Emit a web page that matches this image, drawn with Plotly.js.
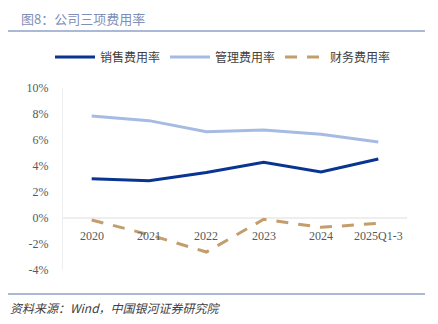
<!DOCTYPE html>
<html><head><meta charset="utf-8">
<script src="https://cdn.plot.ly/plotly-3.0.1.min.js"></script>
<style>body{margin:0;padding:0;background:#fff}#c{width:438px;height:324px}</style>
</head><body><div id="c"></div>
<script>
const categories = ['2020','2021','2022','2023','2024','2025Q1-3'];
const salesRate = [3.02, 2.87, 3.50, 4.28, 3.54, 4.54];
const adminRate = [7.85, 7.49, 6.64, 6.77, 6.44, 5.85];
const financeRate = [-0.15, -1.28, -2.62, -0.10, -0.72, -0.41];
const seriesNames = ['销售费用率','管理费用率','财务费用率'];
const yTicks = [-4,-2,0,2,4,6,8,10];

const cjk = '"Noto Sans CJK SC", "Liberation Serif", serif';
const num = '"Liberation Serif", "Noto Sans CJK SC", serif';

const L = 63, T = 88, PW = 344, PH = 182, W = 438, H = 324;
const px = x => (x - L) / PW;
const py = y => (T + PH - y) / PH;

const traces = [
  {x: categories, y: salesRate, name: seriesNames[0], mode:'lines', line:{color:'#0a3491', width:3}},
  {x: categories, y: adminRate, name: seriesNames[1], mode:'lines', line:{color:'#a6bbe4', width:3}},
  {x: categories, y: financeRate, name: seriesNames[2], mode:'lines', line:{color:'#c49d6c', width:3, dash:'12px,10px'}}
];

const annotations = categories.map((c, i) => ({
  x: i, y: -1.38, xref:'x', yref:'y', text: c, showarrow:false,
  font:{family:num, size:12, color:'#595959'}
}));
annotations.push({xref:'paper', yref:'paper', x:px(19), y:py(18), xanchor:'left', yanchor:'middle',
  text:'图8：公司三项费用率', showarrow:false, font:{family:cjk, size:13, color:'#7f8fb8'}});
annotations.push({xref:'paper', yref:'paper', x:px(8), y:py(307), xanchor:'left', yanchor:'middle',
  text:'<i>资料来源：Wind，中国银河证券研究院</i>', showarrow:false, font:{family:cjk, size:12, color:'#404040'}});

const layout = {
  width:W, height:H,
  margin:{l:L, r:W-L-PW, t:T, b:H-T-PH},
  paper_bgcolor:'#ffffff', plot_bgcolor:'#ffffff',
  showlegend:true,
  legend:{orientation:'h', xref:'container', yref:'container', x:50/W, y:1-57/H, yanchor:'middle', xanchor:'left',
    font:{family:cjk, size:12, color:'#404040'}, itemwidth:40, tracegroupgap:0, bgcolor:'rgba(0,0,0,0)'},
  xaxis:{type:'category', range:[-0.5,5.5], showticklabels:false, showgrid:false, zeroline:false, showline:false, ticks:''},
  yaxis:{range:[-4,10], tickvals:yTicks, ticktext:yTicks.map(v=>v+'%'), showgrid:false,
    zeroline:true, zerolinecolor:'#eeeeee', zerolinewidth:1.5,
    showline:true, linecolor:'#eeeeee', linewidth:1, ticks:'', ticklabelstandoff:11,
    tickfont:{family:num, size:12, color:'#595959'}},
  annotations: annotations,
  shapes:[
    {type:'line', xref:'paper', yref:'paper', x0:px(8), x1:px(425), y0:py(31), y1:py(31), line:{color:'#8fa0c8', width:1.5}},
    {type:'line', xref:'paper', yref:'paper', x0:px(8), x1:px(425), y0:py(294), y1:py(294), line:{color:'#8fa0c8', width:1.5}}
  ]
};
Plotly.newPlot('c', traces, layout, {displayModeBar:false, staticPlot:true});
</script></body></html>
